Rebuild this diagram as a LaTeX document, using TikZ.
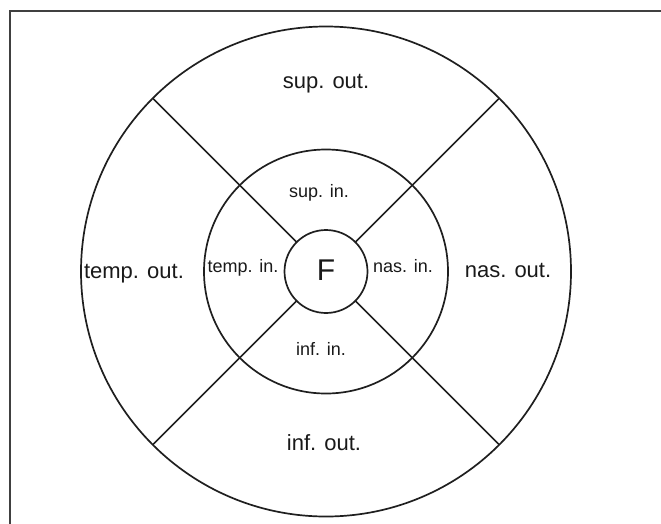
\documentclass[tikz,border=0pt]{standalone}
\usepackage{fontspec}
\setmainfont{Liberation Sans}
\begin{document}
\begin{tikzpicture}[x=1pt,y=-1pt,
  ring/.style={circle, draw=black!88, line width=1.7pt, inner sep=0pt, outer sep=0pt},
  divider/.style={draw=black!88, line width=1.7pt},
  bigtxt/.style={anchor=base, inner sep=0pt, font=\fontsize{22}{26}\selectfont, text=black!90},
  smalltxt/.style={anchor=base, inner sep=0pt, font=\fontsize{18}{22}\selectfont, text=black!90},
  framestyle/.style={draw=black!75, line width=1.3pt}]
\useasboundingbox (0,0) rectangle (661,523);
\begin{scope}
\clip (0,0) rectangle (661,523);
\draw[framestyle] (10,11) rectangle (700,560);
\end{scope}
\coordinate (c) at (326,271.5);
\node[ring, minimum size=490pt] (outer) at (c) {};
\node[ring, minimum size=244pt] (inner) at (c) {};
\node[ring, minimum size=83pt] (F) at (c) {};
\draw[divider] (F.45) -- (outer.45);
\draw[divider] (F.135) -- (outer.135);
\draw[divider] (F.225) -- (outer.225);
\draw[divider] (F.315) -- (outer.315);
\node[anchor=base, inner sep=0pt, font=\fontsize{30}{34}\selectfont, text=black!90] (Ftxt) at (326,280) {F};
\node[bigtxt] (supout) at (326,88) {sup. out.};
\node[bigtxt] (infout) at (324,450) {inf. out.};
\node[bigtxt] (tempout) at (134,278) {temp. out.};
\node[bigtxt] (nasout) at (508,277) {nas. out.};
\node[smalltxt] (supin) at (319,197) {sup. in.};
\node[smalltxt] (infin) at (321,355) {inf. in.};
\node[smalltxt] (tempin) at (243,272) {temp. in.};
\node[smalltxt] (nasin) at (403,272) {nas. in.};
\end{tikzpicture}
\end{document}
